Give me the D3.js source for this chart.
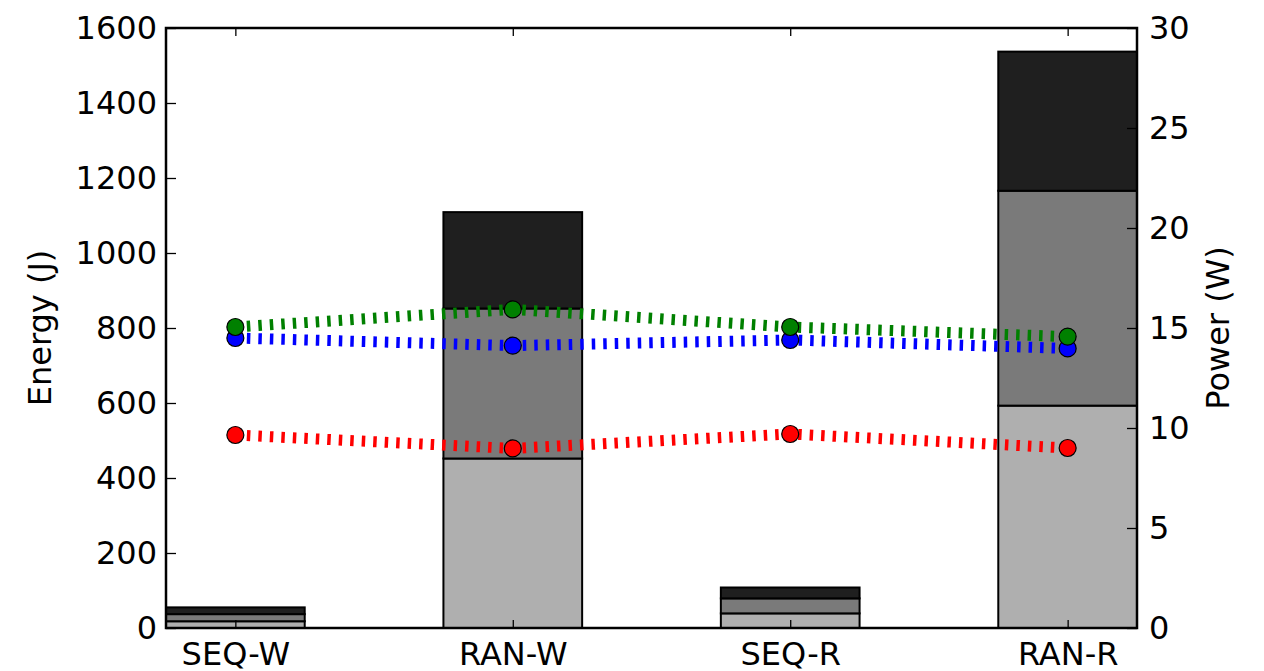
<!DOCTYPE html>
<html><head><meta charset="utf-8">
<script src="https://cdn.jsdelivr.net/npm/d3@7"></script>
<style>body{margin:0;background:#fff}text{font-family:"DejaVu Sans",sans-serif}</style>
</head><body><svg id="c" width="1264" height="671"></svg>
<script>
const categories = ["SEQ-W","RAN-W","SEQ-R","RAN-R"];
const energyLow  = [18, 452, 39, 593];
const energyMid  = [19, 400, 40, 573];
const energyHigh = [18, 257, 29, 371];
const powerGreen = [15.05, 15.93, 15.05, 14.57];
const powerBlue  = [14.50, 14.12, 14.40, 13.98];
const powerRed   = [9.65, 8.98, 9.70, 9.00];
const energyTicks = [0,200,400,600,800,1000,1200,1400,1600];
const powerTicks = [0,5,10,15,20,25,30];

const svg = d3.select("#c");
const L=166, R=1137, T=28, B=628;
const x = d3.scaleLinear().domain([-0.25,3.25]).range([L,R]);
const yE = d3.scaleLinear().domain([0,1600]).range([B,T]);
const yP = d3.scaleLinear().domain([0,30]).range([B,T]);
const bw = 0.5;

const stacks = [
  {vals: energyLow, color:"#afafaf"},
  {vals: energyMid, color:"#7a7a7a"},
  {vals: energyHigh, color:"#1f1f1f"}
];
const base = categories.map(()=>0);
stacks.forEach(s=>{
  svg.append("g").selectAll("rect").data(categories).join("rect")
    .attr("x",(d,i)=>x(i-bw/2)).attr("width",x(bw)-x(0))
    .attr("y",(d,i)=>yE(base[i]+s.vals[i]))
    .attr("height",(d,i)=>yE(base[i])-yE(base[i]+s.vals[i]))
    .attr("fill",s.color).attr("stroke","#000").attr("stroke-width",2);
  categories.forEach((d,i)=>base[i]+=s.vals[i]);
});

// axes
const axL = d3.axisLeft(yE).tickValues(energyTicks).tickSize(-10).tickPadding(9).tickFormat(d3.format("d"));
const axR = d3.axisRight(yP).tickValues(powerTicks).tickSize(-10).tickPadding(12);
const axB = d3.axisBottom(x).tickValues([0,1,2,3]).tickSize(-8).tickPadding(14).tickFormat(i=>categories[i]);
const axT = d3.axisTop(x).tickValues([0,1,2,3]).tickSize(-8).tickFormat("");
function style(g){g.select(".domain").remove();g.selectAll("line").attr("stroke","#000").attr("stroke-width",1.3);
  g.selectAll("text").attr("font-size",32).attr("fill","#000");}
svg.append("g").attr("transform",`translate(${L},0)`).call(axL).call(style);
svg.append("g").attr("transform",`translate(${R},0)`).call(axR).call(style);
svg.append("g").attr("transform",`translate(0,${B})`).call(axB).call(style);
svg.append("g").attr("transform",`translate(0,${T})`).call(axT).call(style);

// power lines
const series = [
  {vals: powerRed, color:"#ff0000"},
  {vals: powerBlue, color:"#0000ff"},
  {vals: powerGreen, color:"#008000"}
];
const line = d3.line().x((d,i)=>x(i)).y(d=>yP(d));
series.forEach(s=>{
  svg.append("path").datum(s.vals).attr("d",line).attr("fill","none")
    .attr("stroke",s.color).attr("stroke-width",11).attr("stroke-dasharray","3.5,8");
});
series.forEach(s=>{
  svg.append("g").selectAll("circle").data(s.vals).join("circle")
    .attr("cx",(d,i)=>x(i)).attr("cy",d=>yP(d)).attr("r",8.5)
    .attr("fill",s.color).attr("stroke","#000").attr("stroke-width",1.2);
});

// frame
svg.append("rect").attr("x",L).attr("y",T).attr("width",R-L).attr("height",B-T)
  .attr("fill","none").attr("stroke","#000").attr("stroke-width",2.5);

svg.append("text").attr("transform",`translate(51,${(T+B)/2}) rotate(-90)`)
  .attr("text-anchor","middle").attr("font-size",32).text("Energy (J)");
svg.append("text").attr("transform",`translate(1229,${(T+B)/2}) rotate(-90)`)
  .attr("text-anchor","middle").attr("font-size",32).text("Power (W)");
</script></body></html>
